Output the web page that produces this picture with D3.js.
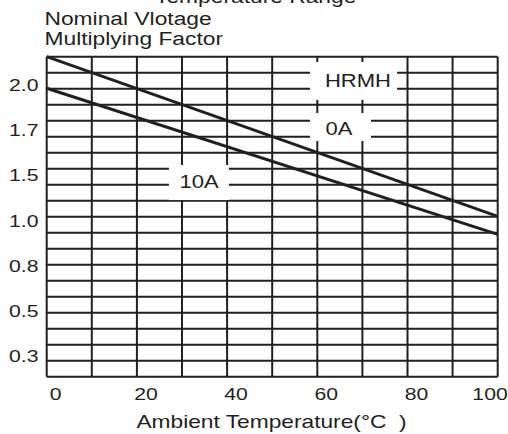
<!DOCTYPE html>
<html><head><meta charset="utf-8">
<script src="https://cdn.jsdelivr.net/npm/d3@7"></script>
<style>
html,body{margin:0;padding:0;background:#fff;}
svg{display:block;}
text{font-family:"Liberation Sans",Arial,Helvetica,sans-serif;fill:#231f20;white-space:pre;}
</style>
</head><body>
<svg id="c" width="508" height="434"></svg>
<script>
// ---- data ----
const xTicks = [0, 20, 40, 60, 80, 100];
const yTickLabels = ["2.0", "1.7", "1.5", "1.0", "0.8", "0.5", "0.3"];
const yTickValues = [2.0, 1.7, 1.5, 1.0, 0.8, 0.5, 0.3];
const temps = [0, 100];
const factor0A = [2.19, 1.05];   // HRMH 0A
const factor10A = [1.98, 0.94];  // HRMH 10A
const seriesLabels = ["HRMH", "0A", "10A"];
const titleLines = ["Nominal Vlotage", "Multiplying Factor"];
const xTitle = "Ambient Temperature(°C  )";
const topText = "Temperature Range";

// ---- layout ----
const ink = "#231f20";
const L = 46.7, R = 497.7, T = 56.7, B = 376.7;
const svg = d3.select("#c");

const x = d3.scaleLinear().domain([0, 100]).range([L, R]);
const row = d3.scaleLinear().domain([0, 20]).range([T, B]);   // 20 grid rows
const yPoint = d3.scalePoint().domain(yTickLabels).range([85.2, 356.5]);
const y = d3.scaleLinear().domain(yTickValues).range(yTickLabels.map(l => yPoint(l)));

// grid
const g = svg.append("g").attr("stroke", ink).attr("stroke-width", 2);
g.selectAll("line.h").data(d3.range(0, 21)).join("line")
  .attr("x1", L).attr("x2", R).attr("y1", d => row(d)).attr("y2", d => row(d));
g.selectAll("line.v").data(d3.range(0, 101, 10)).join("line")
  .attr("y1", T).attr("y2", B).attr("x1", d => x(d)).attr("x2", d => x(d));

// white label boxes (in data/grid units)
const boxes = [
  {t0: 58.4, t1: 77.7, r0: 0.33, r1: 2.7},
  {t0: 58.4, t1: 71.9, r0: 3.52, r1: 5.27},
  {t0: 27.1, t1: 40.4, r0: 6.77, r1: 8.96}
];
svg.append("g").selectAll("rect").data(boxes).join("rect")
  .attr("x", d => x(d.t0)).attr("width", d => x(d.t1) - x(d.t0))
  .attr("y", d => row(d.r0)).attr("height", d => row(d.r1) - row(d.r0))
  .attr("fill", "#fff");

// curves
const line = d3.line().x(d => x(d[0])).y(d => y(d[1]));
[factor0A, factor10A].forEach(s => {
  svg.append("path").datum(temps.map((t, i) => [t, s[i]]))
    .attr("d", line).attr("fill", "none").attr("stroke", ink).attr("stroke-width", 3);
});

function txt(str, px, py, size, sx, anchor) {
  svg.append("text").attr("transform", `translate(${px},${py}) scale(${sx},1)`)
    .attr("text-anchor", anchor).style("font-size", size + "px").text(str);
}

// series labels
const labelPos = [{t: 69.0, r: 1.875}, {t: 64.8, r: 4.89}, {t: 33.8, r: 8.22}];
seriesLabels.forEach((s, i) => txt(s, x(labelPos[i].t), row(labelPos[i].r), 18.5, 1.19, "middle"));

// y tick labels
yTickLabels.forEach((l, i) => txt(l, 38.5, y(yTickValues[i]) + 5.8, 16.3, 1.3, "end"));

// x tick labels
xTicks.forEach((v, i) => {
  if (i === xTicks.length - 1) txt(String(v), x(v) + 10, 400, 16.3, 1.3, "end");
  else txt(String(v), x(v) + 9, 400, 16.3, 1.3, "middle");
});

// titles
titleLines.forEach((s, i) => txt(s, 44.5, 25 + i * 20, 19, 1.2, "start"));
txt(xTitle, 271.5, 428.3, 18.5, 1.23, "middle");
txt(topText, 155, 3, 19, 1.2, "start");
</script>
</body></html>
